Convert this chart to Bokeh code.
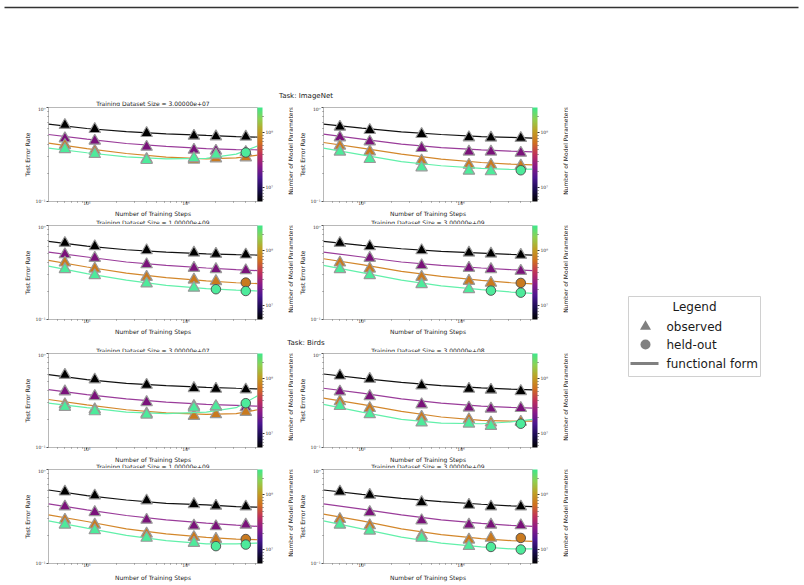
import math
from bokeh.plotting import figure
from bokeh.layouts import column, row
from bokeh.models import (Range1d, FixedTicker, CustomJSTickFormatter, ColorBar,
                          LogColorMapper, LogAxis)
from bokeh.embed import file_html
from bokeh.resources import INLINE
from bokeh.core.properties import value

FONT = "DejaVu Sans"
NaN = float("nan")

# ---------------- data ----------------
steps = [6e4, 1.2e5, 4e5, 1.2e6, 2e6, 4e6]
fit_steps = [4.1e4, 1e5, 2.5e5, 6.3e5, 1.6e6, 3.2e6, 5.3e6]
model_colors = ["#000000", "#7a127a", "#c97a1f", "#4deb9b"]
fit_colors = ["#111111", "#9a3c9a", "#d3872b", "#62f0aa"]
x_ticks = [1e5, 1e6]
y_ticks = [0.1, 1.0]
cbar_ticks = [1e7, 1e8]
cbar_low, cbar_high = 5.6e6, 2.9e8
task_titles = ["Task: ImageNet", "Task: Birds"]
dataset_titles = ["Training Dataset Size = 3.00000e+07", "Training Dataset Size = 3.00000e+08",
                  "Training Dataset Size = 1.00000e+09", "Training Dataset Size = 3.00000e+09"]
x_label = "Number of Training Steps"
y_label = "Test Error Rate"
cbar_label = "Number of Model Parameters"
legend_title = "Legend"
legend_labels = ["observed", "held-out", "functional form"]

# ImageNet
in_3e7_obs = [[0.649, 0.588, 0.533, 0.499, 0.491, 0.488],
              [0.468, 0.442, 0.381, 0.354, 0.346, 0.335],
              [0.397, 0.346, 0.282, 0.278, 0.287, 0.294],
              [0.360, 0.319, 0.275, 0.289, 0.314, 0.332]]
in_3e7_held = [[0, 0, 0, 0, 0, 0], [0, 0, 0, 0, 0, 0], [0, 0, 0, 0, 0, 0], [0, 0, 0, 0, 0, 1]]
in_3e7_fit = [[0.665, 0.598, 0.555, 0.525, 0.504, 0.491, 0.484],
              [0.516, 0.460, 0.414, 0.385, 0.366, 0.357, 0.355],
              [0.417, 0.366, 0.324, 0.296, 0.284, 0.291, 0.311],
              [0.369, 0.330, 0.299, 0.284, 0.287, 0.319, 0.391]]

in_3e8_obs = [[0.623, 0.574, 0.520, 0.480, 0.476, 0.472],
              [0.480, 0.434, 0.369, 0.338, 0.338, 0.329],
              [0.391, 0.340, 0.271, 0.245, 0.245, 0.240],
              [0.338, 0.282, 0.230, 0.212, 0.209, 0.215]]
in_3e8_held = [[0, 0, 0, 0, 0, 0], [0, 0, 0, 0, 0, 0], [0, 0, 0, 0, 0, 0], [0, 0, 0, 0, 0, 1]]
in_3e8_fit = [[0.665, 0.603, 0.551, 0.516, 0.491, 0.480, 0.472],
              [0.520, 0.460, 0.407, 0.375, 0.354, 0.343, 0.338],
              [0.424, 0.369, 0.319, 0.282, 0.260, 0.250, 0.245],
              [0.369, 0.314, 0.266, 0.240, 0.225, 0.219, 0.221]]

in_1e9_obs = [[0.650, 0.599, 0.543, 0.513, 0.497, 0.489],
              [0.493, 0.451, 0.386, 0.353, 0.342, 0.333],
              [0.402, 0.347, 0.283, 0.265, 0.255, 0.247],
              [0.342, 0.295, 0.241, 0.217, 0.210, 0.201]]
in_1e9_held = [[0, 0, 0, 0, 0, 0], [0, 0, 0, 0, 0, 0], [0, 0, 0, 0, 0, 1], [0, 0, 0, 0, 1, 1]]
in_1e9_fit = [[0.677, 0.604, 0.552, 0.522, 0.500, 0.489, 0.485],
              [0.522, 0.462, 0.409, 0.377, 0.353, 0.339, 0.331],
              [0.425, 0.362, 0.312, 0.279, 0.257, 0.246, 0.241],
              [0.370, 0.307, 0.262, 0.231, 0.213, 0.205, 0.201]]

in_3e9_obs = [[0.650, 0.599, 0.543, 0.513, 0.500, 0.485],
              [NaN, 0.451, 0.377, 0.353, 0.342, 0.328],
              [0.402, 0.347, 0.283, 0.257, 0.245, 0.245],
              [0.342, 0.295, 0.237, 0.210, 0.203, 0.193]]
in_3e9_held = [[0, 0, 0, 0, 0, 0], [0, 0, 0, 0, 0, 0], [0, 0, 0, 0, 0, 1], [0, 0, 0, 0, 1, 1]]
in_3e9_fit = [[0.677, 0.614, 0.566, 0.530, 0.509, 0.493, 0.485],
              [0.522, 0.462, 0.409, 0.377, 0.353, 0.339, 0.331],
              [0.443, 0.383, 0.325, 0.288, 0.261, 0.246, 0.239],
              [0.377, 0.315, 0.262, 0.228, 0.208, 0.196, 0.190]]

# Birds
b_3e7_obs = [[0.590, 0.527, 0.463, 0.427, 0.420, 0.413],
             [0.394, 0.351, 0.303, 0.275, 0.271, 0.267],
             [0.287, 0.254, 0.229, 0.216, 0.225, 0.238],
             [0.269, 0.242, 0.223, 0.265, 0.273, 0.296]]
b_3e7_held = [[0, 0, 0, 0, 0, 0], [0, 0, 0, 0, 0, 0], [0, 0, 0, 0, 0, 0], [0, 0, 0, 0, 0, 1]]
b_3e7_fit = [[0.595, 0.527, 0.482, 0.455, 0.437, 0.427, 0.420],
             [0.413, 0.366, 0.329, 0.304, 0.287, 0.280, 0.275],
             [0.324, 0.284, 0.252, 0.233, 0.225, 0.229, 0.252],
             [0.296, 0.265, 0.238, 0.229, 0.238, 0.265, 0.357]]

b_3e8_obs = [[0.581, 0.535, 0.455, 0.420, 0.410, 0.397],
             [0.393, 0.351, 0.287, 0.265, 0.258, 0.262],
             [0.309, 0.262, 0.211, 0.199, 0.184, 0.187],
             [0.275, 0.225, 0.184, 0.179, 0.169, 0.179]]
b_3e8_held = [[0, 0, 0, 0, 0, 0], [0, 0, 0, 0, 0, 0], [0, 0, 0, 0, 0, 0], [0, 0, 0, 0, 0, 1]]
b_3e8_fit = [[0.605, 0.545, 0.494, 0.455, 0.430, 0.417, 0.410],
             [0.427, 0.378, 0.329, 0.296, 0.275, 0.267, 0.262],
             [0.335, 0.287, 0.242, 0.211, 0.194, 0.191, 0.191],
             [0.287, 0.238, 0.199, 0.182, 0.179, 0.187, 0.199]]

b_1e9_obs = [[0.581, 0.527, 0.467, 0.427, 0.410, 0.403],
             [0.403, 0.351, 0.291, 0.252, 0.248, 0.258],
             [0.291, 0.258, 0.207, 0.191, 0.182, 0.182],
             [0.258, 0.225, 0.187, 0.165, 0.153, 0.159]]
b_1e9_held = [[0, 0, 0, 0, 0, 0], [0, 0, 0, 0, 0, 0], [0, 0, 0, 0, 0, 1], [0, 0, 0, 0, 1, 1]]
b_1e9_fit = [[0.605, 0.527, 0.474, 0.437, 0.420, 0.403, 0.397],
             [0.430, 0.372, 0.324, 0.291, 0.269, 0.256, 0.248],
             [0.329, 0.280, 0.234, 0.207, 0.190, 0.182, 0.179],
             [0.284, 0.238, 0.199, 0.175, 0.162, 0.162, 0.165]]

b_3e9_obs = [[0.581, 0.535, 0.448, 0.420, 0.403, 0.403],
             [NaN, 0.351, 0.287, 0.258, 0.258, 0.254],
             [0.296, 0.254, 0.199, 0.179, 0.187, 0.187],
             [0.258, 0.223, 0.187, 0.153, 0.150, 0.141]]
b_3e9_held = [[0, 0, 0, 0, 0, 0], [0, 0, 0, 0, 0, 0], [0, 0, 0, 0, 0, 1], [0, 0, 0, 0, 1, 1]]
b_3e9_fit = [[0.605, 0.545, 0.494, 0.455, 0.427, 0.410, 0.403],
             [0.430, 0.378, 0.329, 0.291, 0.267, 0.254, 0.248],
             [0.335, 0.284, 0.234, 0.203, 0.184, 0.175, 0.172],
             [0.284, 0.234, 0.191, 0.165, 0.150, 0.143, 0.143]]

# colormap anchors for the colour bar (bottom -> top)
cmap_anchors = ["#000000", "#1a0c50", "#4a1690", "#8a1a8a", "#c0305a",
                "#d0701f", "#c0a024", "#90d050", "#3ee88c"]

# ---------------- helpers ----------------
def hex2rgb(h):
    return tuple(int(h[i:i + 2], 16) for i in (1, 3, 5))


def build_palette(anchors, n=256):
    rgb = [hex2rgb(a) for a in anchors]
    out = []
    for i in range(n):
        t = i / (n - 1) * (len(rgb) - 1)
        k = min(int(t), len(rgb) - 2)
        f = t - k
        c = [round(rgb[k][j] + (rgb[k + 1][j] - rgb[k][j]) * f) for j in range(3)]
        out.append("#%02x%02x%02x" % tuple(c))
    return out


palette = build_palette(cmap_anchors)

SUP_CODE = """
const e = Math.round(Math.log10(tick));
const m = {'-':'\u207b','0':'\u2070','1':'\u00b9','2':'\u00b2','3':'\u00b3','4':'\u2074','5':'\u2075','6':'\u2076','7':'\u2077','8':'\u2078','9':'\u2079'};
return '10' + String(e).split('').map(c => m[c]).join('');
"""


def sup_fmt():
    return CustomJSTickFormatter(code=SUP_CODE)


def minor_list(lo_exp, hi_exp, lo, hi):
    vals = []
    for e in range(lo_exp, hi_exp + 1):
        for k in range(2, 10):
            v = k * 10 ** e
            if lo <= v <= hi:
                vals.append(v)
    return vals


FW, FH = 209, 94
BOTTOM = 9
ROW_H = FH + 1 + BOTTOM


def style_axis(ax):
    ax.formatter = sup_fmt()
    ax.axis_line_color = None
    ax.major_tick_in = 0
    ax.major_tick_out = 2
    ax.minor_tick_in = 0
    ax.minor_tick_out = 1
    ax.major_tick_line_color = "#555555"
    ax.minor_tick_line_color = "#777777"
    ax.major_label_text_font = FONT
    ax.major_label_text_font_size = "4.5px"
    ax.major_label_text_color = "#333333"
    ax.major_label_standoff = 1
    ax.axis_label_text_font = FONT
    ax.axis_label_text_font_size = "6px"
    ax.axis_label_text_font_style = "normal"
    ax.axis_label_text_color = "#222222"
    ax.axis_label_standoff = 2


def make_panel(obs, held, fit, col):
    lb = 48 if col == 0 else 30
    p = figure(frame_width=FW, frame_height=FH, x_axis_type="log", y_axis_type="log",
               x_range=Range1d(4.1e4, 5.25e6), y_range=Range1d(0.1, 1.0),
               min_border_left=lb, min_border_right=29, min_border_top=1,
               min_border_bottom=BOTTOM, toolbar_location=None,
               output_backend="svg", background_fill_color="white",
               border_fill_color="white")
    p.grid.visible = False
    p.outline_line_color = "#b8b8b8"
    p.outline_line_width = 1
    xax = p.below[0]
    yax = p.left[0]
    xax.ticker = FixedTicker(ticks=x_ticks, minor_ticks=minor_list(4, 6, 4.1e4, 5.25e6))
    yax.ticker = FixedTicker(ticks=y_ticks, minor_ticks=minor_list(-1, -1, 0.1, 1.0))
    yax.axis_label = y_label
    style_axis(xax)
    style_axis(yax)
    xax.major_label_standoff = -3

    for m in range(4):
        p.line(fit_steps, fit[m], line_color=fit_colors[m], line_width=1.2)
        tx, ty, cx, cy = [], [], [], []
        for s, v, h in zip(steps, obs[m], held[m]):
            if math.isnan(v):
                continue
            if h:
                cx.append(s); cy.append(v)
            else:
                tx.append(s); ty.append(v)
        p.scatter(tx, ty, marker="triangle", size=11.5, fill_color=model_colors[m],
                  line_color="#9a9a9a", line_width=1.2)
        if cx:
            p.scatter(cx, cy, marker="circle", size=9.5, fill_color=model_colors[m],
                      line_color="#4a4a4a", line_width=0.9)

    # spacer between frame and colour bar
    spacer = LogAxis(ticker=FixedTicker(ticks=[]), major_tick_out=13, major_tick_in=0,
                     minor_tick_out=0, minor_tick_in=0, major_tick_line_color=None,
                     minor_tick_line_color=None, axis_line_color=None,
                     major_label_text_font_size="4px")
    p.add_layout(spacer, "right")

    mapper = LogColorMapper(palette=palette, low=cbar_low, high=cbar_high)
    cb = ColorBar(color_mapper=mapper, width=5, height=FH, padding=0, margin=0,
                  ticker=FixedTicker(ticks=cbar_ticks, minor_ticks=minor_list(6, 8, cbar_low, cbar_high)),
                  formatter=sup_fmt(), major_label_text_font=FONT,
                  major_label_text_font_size="4.5px", major_label_text_color="#333333",
                  major_tick_in=0, major_tick_out=2, major_tick_line_color="#333333",
                  minor_tick_in=0, minor_tick_out=1, minor_tick_line_color="#555555",
                  label_standoff=1, bar_line_color=None, border_line_color=None,
                  background_fill_alpha=0)
    p.add_layout(cb, "right")
    return p


def blank(width, height):
    p = figure(width=width, height=height, x_range=Range1d(0, width), y_range=Range1d(height, 0),
               x_axis_location=None, y_axis_location=None, toolbar_location=None,
               output_backend="svg", min_border=0, outline_line_color=None,
               background_fill_color="white", border_fill_color="white")
    p.grid.visible = False
    return p


def put_text(p, xs, ys, texts, size="6px", align="center", angle=0.0, color="#222222"):
    p.text(xs, ys, text=texts, text_align=align, text_baseline="middle", angle=angle,
           text_font=value(FONT), text_font_size=size, text_color=color)


GRID_W = 568
LEFT_C, RIGHT_C = 48 + FW / 2, 323 + FW / 2
TASK_C = 305.5
TOP_H = 106


def cbar_strip():
    s = blank(7, ROW_H)
    put_text(s, [3.5], [1 + FH / 2], [cbar_label], angle=math.pi / 2)
    return s


def panel_row(a, b):
    return row(a, cbar_strip(), b, cbar_strip())


def strip(height, xlabel_y=None, titles_y=None, titles=None, task=None):
    s = blank(GRID_W, height)
    if xlabel_y is not None:
        put_text(s, [LEFT_C, RIGHT_C], [xlabel_y, xlabel_y], [x_label, x_label])
    if task is not None:
        put_text(s, [TASK_C], [task[1]], [task[0]], size="7px")
    if titles is not None:
        put_text(s, [LEFT_C, RIGHT_C], [titles_y, titles_y], titles)
    return s


panel_data = [
    (in_3e7_obs, in_3e7_held, in_3e7_fit), (in_3e8_obs, in_3e8_held, in_3e8_fit),
    (in_1e9_obs, in_1e9_held, in_1e9_fit), (in_3e9_obs, in_3e9_held, in_3e9_fit),
    (b_3e7_obs, b_3e7_held, b_3e7_fit), (b_3e8_obs, b_3e8_held, b_3e8_fit),
    (b_1e9_obs, b_1e9_held, b_1e9_fit), (b_3e9_obs, b_3e9_held, b_3e9_fit),
]
figs = [make_panel(o, h, f, i % 2) for i, (o, h, f) in enumerate(panel_data)]

# top area: rule, first task heading and first-row titles
top = blank(804, TOP_H)
top.segment(x0=[4], y0=[7], x1=[798], y1=[7], line_color="#333333", line_width=1.5)
put_text(top, [TASK_C], [95.5], [task_titles[0]], size="7px")
put_text(top, [LEFT_C, RIGHT_C], [103], dataset_titles[0:2])

m12 = strip(14, xlabel_y=3, titles_y=11.5, titles=dataset_titles[2:4])
m23 = strip(24, xlabel_y=3, titles_y=21.5, titles=dataset_titles[0:2],
            task=(task_titles[1], 14))
m34 = strip(12, xlabel_y=3, titles_y=9.5, titles=dataset_titles[2:4])
b4 = strip(11, xlabel_y=3.5)

grid = column(panel_row(figs[0], figs[1]), m12, panel_row(figs[2], figs[3]), m23,
              panel_row(figs[4], figs[5]), m34, panel_row(figs[6], figs[7]), b4)

# legend panel (x from 568, y from 106)
leg = blank(804 - GRID_W, 477)
leg.quad(left=[60], right=[192], top=[190], bottom=[270], fill_color="white",
         line_color="#d0d0d0", line_width=1)
leg.scatter([77], [220], marker="triangle", size=11, fill_color="#808080", line_color=None)
leg.scatter([77], [238], marker="circle", size=10, fill_color="#808080", line_color=None)
leg.line([62, 90], [257, 257], line_color="#808080", line_width=3)
put_text(leg, [126], [200], [legend_title], size="12px", color="#1a1a1a")
put_text(leg, [98, 98, 98], [220, 238, 257], legend_labels, size="12px", align="left",
         color="#1a1a1a")

page = column(top, row(grid, leg))

open("out.html", "w").write(file_html(page, INLINE))
